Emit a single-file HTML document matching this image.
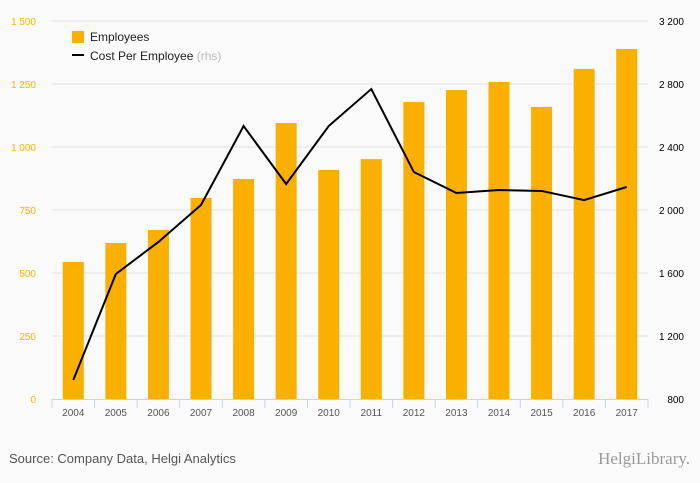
<!DOCTYPE html>
<html><head><meta charset="utf-8"><style>
body{margin:0;background:#fafafa;font-family:"Liberation Sans",sans-serif;}
svg{display:block}
</style></head><body>
<svg width="700" height="483">
<rect width="700" height="483" fill="#fafafa"/>
<g id="grid"></g><g id="bars"></g><g id="axes"></g><g id="line"></g>
<g>
<rect x="72" y="31" width="12" height="12" fill="#fbb000"/>
<text x="90" y="41" font-size="12" fill="#222">Employees</text>
<rect x="72" y="54" width="12" height="2" fill="#000"/>
<text x="90" y="60" font-size="12" fill="#222">Cost Per Employee <tspan fill="#bbb">(rhs)</tspan></text>
</g>
<text x="9" y="463" font-size="13" fill="#555">Source: Company Data, Helgi Analytics</text>
<text x="690" y="464" font-size="17" fill="#999" text-anchor="end" font-family="Liberation Serif, serif">HelgiLibrary.</text>
</svg>
<script>
const years=["2004","2005","2006","2007","2008","2009","2010","2011","2012","2013","2014","2015","2016","2017"];
const employees=[544,619,671,798,873,1095,909,952,1179,1226,1258,1159,1310,1389];
const costPerEmployee=[921,1594,1797,2032,2533,2165,2533,2768,2241,2108,2127,2121,2063,2146];
const leftTicks=[0,250,500,750,1000,1250,1500];
const leftLabels=["0","250","500","750","1 000","1 250","1 500"];
const rightTicks=[800,1200,1600,2000,2400,2800,3200];
const rightLabels=["800","1 200","1 600","2 000","2 400","2 800","3 200"];
const NS="http://www.w3.org/2000/svg";
const X0=52,X1=648,Y0=399,Y1=21;
const step=(X1-X0)/years.length;
const xc=i=>X0+step*(i+0.5);
const yl=v=>Y0-(v-0)/1500*(Y0-Y1);
const yr=v=>Y0-(v-800)/2400*(Y0-Y1);
function mk(tag,attrs,parent){const e=document.createElementNS(NS,tag);for(const k in attrs)e.setAttribute(k,attrs[k]);document.getElementById(parent).appendChild(e);return e;}
leftTicks.forEach((t,i)=>{
 if(t>0){const g=mk('line',{x1:X0,x2:X1,y1:yl(t),y2:yl(t),stroke:'#e3e3e3'},'grid');
 
 }
 const l=mk('text',{x:36,y:yl(t)+4,'font-size':10,fill:'#fbb000','text-anchor':'end'},'axes');l.textContent=leftLabels[i];
 
 
});
rightTicks.forEach((t,i)=>{
 const l=mk('text',{x:684,y:yr(t)+4,'font-size':10,fill:'#000','text-anchor':'end'},'axes');l.textContent=rightLabels[i];
 
 
});
employees.forEach((v,i)=>{
 const b=mk('rect',{x:xc(i)-10.5,y:yl(v),width:21,height:Y0-yl(v),fill:'#fbb000'},'bars');
 
 
 const t=mk('text',{x:xc(i),y:416,'font-size':10,fill:'#555','text-anchor':'middle'},'axes');t.textContent=years[i];
 
 
});
const ax=mk('line',{x1:X0,x2:X1,y1:Y0+0.5,y2:Y0+0.5,stroke:'#c8d4e8'},'axes');


for(let i=0;i<=years.length;i++){const tk=mk('line',{x1:X0+step*i,x2:X0+step*i,y1:Y0,y2:Y0+9,stroke:'#c8d4e8'},'axes');
 
 }
const p=mk('polyline',{points:costPerEmployee.map((v,i)=>xc(i)+','+yr(v)).join(' '),fill:'none',stroke:'#000','stroke-width':2},'line');


</script>
</body></html>
